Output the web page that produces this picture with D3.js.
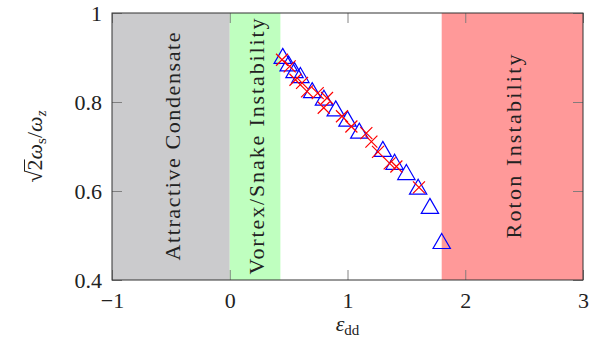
<!DOCTYPE html>
<html>
<head>
<meta charset="utf-8">
<script src="https://cdn.jsdelivr.net/npm/d3@7"></script>
<style>
  body { margin: 0; background: #fff; }
  svg { display: block; }
</style>
</head>
<body>
<svg id="chart" width="604" height="344"></svg>
<script>
const FONT = "'Liberation Serif'";

// regions along eps_dd
const regions = [
    { name: "Attractive Condensate", from: -1, to: 0, color: "#cbcbcd", len: 228 },
    { name: "Vortex/Snake Instability", from: 0, to: 0.43, color: "#bfffbf", len: 256 },
    { name: "Roton Instability", from: 1.8, to: 3, color: "#ff9999", len: 184 },
];

// blue triangles
const triEps = [0.45, 0.5, 0.55, 0.6, 0.7, 0.8, 0.9, 1.0, 1.1, 1.3, 1.4, 1.5, 1.6, 1.7, 1.8];
const triVal = [0.898, 0.881, 0.866, 0.855, 0.821, 0.804, 0.780, 0.757, 0.730, 0.689, 0.660, 0.637, 0.604, 0.561, 0.482];

// red crosses
const crossEps = [0.444, 0.509, 0.558, 0.614, 0.656, 0.747, 0.798, 0.826, 0.953, 1.033, 1.160, 1.203, 1.259, 1.358, 1.415, 1.607];
const crossVal = [0.895, 0.880, 0.850, 0.843, 0.824, 0.820, 0.787, 0.809, 0.768, 0.745, 0.730, 0.711, 0.688, 0.662, 0.655, 0.608];

const xTicks = [-1, 0, 1, 2, 3];
const yTicks = [0.4, 0.6, 0.8, 1];
const yTickLabels = ["0.4", "0.6", "0.8", "1"];

const svg = d3.select("#chart");
const pLeft = 112, pRight = 583, pTop = 13, pBottom = 280;

const x = d3.scaleLinear().domain([-1, 3]).range([pLeft, pRight]);
const y = d3.scaleLinear().domain([0.4, 1]).range([pBottom, pTop]);

// background regions
svg.selectAll(".region")
    .data(regions)
    .enter()
    .append("rect")
    .attr("class", "region")
    .attr("x", d => x(d.from))
    .attr("y", pTop)
    .attr("width", d => x(d.to) - x(d.from))
    .attr("height", pBottom - pTop)
    .attr("fill", d => d.color);

svg.selectAll(".region-label")
    .data(regions)
    .enter()
    .append("text")
    .attr("class", "region-label")
    .attr("transform", d => `translate(${(x(d.from) + x(d.to)) / 2 + 1.5},${(pTop + pBottom) / 2}) rotate(-90)`)
    .attr("text-anchor", "middle")
    .attr("dominant-baseline", "central")
    .attr("font-size", 22)
    .attr("fill", "#222")
    .style("font-family", FONT)
    .attr("textLength", d => d.len)
    .attr("lengthAdjust", "spacing")
    .text(d => d.name);

// ticks (inward on all four sides)
const tickStyle = g => {
    g.select(".domain").remove();
    g.selectAll(".tick line").attr("stroke", "#777").attr("stroke-width", 0.9);
    g.selectAll(".tick text").attr("font-size", 22).attr("fill", "#222")
        .style("font-family", FONT);
};

svg.append("g")
    .attr("transform", `translate(0,${pBottom})`)
    .call(d3.axisBottom(x).tickValues(xTicks).tickSizeInner(-10).tickSizeOuter(0).tickPadding(12).tickFormat(d3.format("d")))
    .call(tickStyle);

svg.append("g")
    .attr("transform", `translate(0,${pTop})`)
    .call(d3.axisTop(x).tickValues(xTicks).tickSizeInner(-10).tickSizeOuter(0).tickFormat(""))
    .call(tickStyle);

svg.append("g")
    .attr("transform", `translate(${pLeft},0)`)
    .call(d3.axisLeft(y).tickValues(yTicks).tickSizeInner(-10).tickSizeOuter(0).tickPadding(10)
        .tickFormat((d, i) => yTickLabels[i]))
    .call(tickStyle);

svg.append("g")
    .attr("transform", `translate(${pRight},0)`)
    .call(d3.axisRight(y).tickValues(yTicks).tickSizeInner(-10).tickSizeOuter(0).tickFormat(""))
    .call(tickStyle);

// frame
svg.append("rect")
    .attr("x", pLeft)
    .attr("y", pTop)
    .attr("width", pRight - pLeft)
    .attr("height", pBottom - pTop)
    .attr("fill", "none")
    .attr("stroke", "#333")
    .attr("stroke-width", 1);

// data: triangles then crosses
const r = 10;
const triPath = `M0,${-r}L${r * Math.sqrt(3) / 2},${r / 2}L${-r * Math.sqrt(3) / 2},${r / 2}Z`;
svg.append("g")
    .selectAll("path")
    .data(d3.zip(triEps, triVal))
    .enter()
    .append("path")
    .attr("d", triPath)
    .attr("transform", d => `translate(${x(d[0])},${y(d[1])})`)
    .attr("fill", "none")
    .attr("stroke", "#0000ff")
    .attr("stroke-width", 1.2);

const c = 6;
svg.append("g")
    .selectAll("path")
    .data(d3.zip(crossEps, crossVal))
    .enter()
    .append("path")
    .attr("d", `M${-c},${-c}L${c},${c}M${-c},${c}L${c},${-c}`)
    .attr("transform", d => `translate(${x(d[0])},${y(d[1])})`)
    .attr("fill", "none")
    .attr("stroke", "#ff0000")
    .attr("stroke-width", 1.2);

// y axis label: sqrt(2) w_s / w_z
const yg = svg.append("g")
    .attr("transform", `translate(42,${(pTop + pBottom) / 2}) rotate(-90)`);
const yLabel = yg.append("text")
    .attr("text-anchor", "middle")
    .attr("font-size", 22)
    .attr("fill", "#222")
    .style("font-family", FONT);
yLabel.append("tspan").text("√");
yLabel.append("tspan").text("2");
yLabel.append("tspan").attr("font-style", "italic").text("ω");
yLabel.append("tspan").attr("font-size", 15).attr("dy", 4).text("s");
yLabel.append("tspan").attr("dy", -4).text("/");
yLabel.append("tspan").attr("font-style", "italic").text("ω");
yLabel.append("tspan").attr("font-style", "italic").attr("font-size", 15).attr("dy", 4).text("z");
const rad = yLabel.node().getExtentOfChar(0);
const two = yLabel.node().getExtentOfChar(1);
yg.append("line")
    .attr("x1", rad.x + rad.width - 1)
    .attr("x2", two.x + two.width)
    .attr("y1", rad.y + 2.5)
    .attr("y2", rad.y + 2.5)
    .attr("stroke", "#222")
    .attr("stroke-width", 1);

const xLabel = svg.append("text")
    .attr("x", (pLeft + pRight) / 2)
    .attr("y", 331)
    .attr("text-anchor", "middle")
    .attr("font-size", 22)
    .attr("fill", "#222")
    .style("font-family", FONT);
xLabel.append("tspan").attr("font-style", "italic").text("ε");
xLabel.append("tspan").attr("font-size", 15).attr("dy", 4).text("dd");
</script>
</body>
</html>
